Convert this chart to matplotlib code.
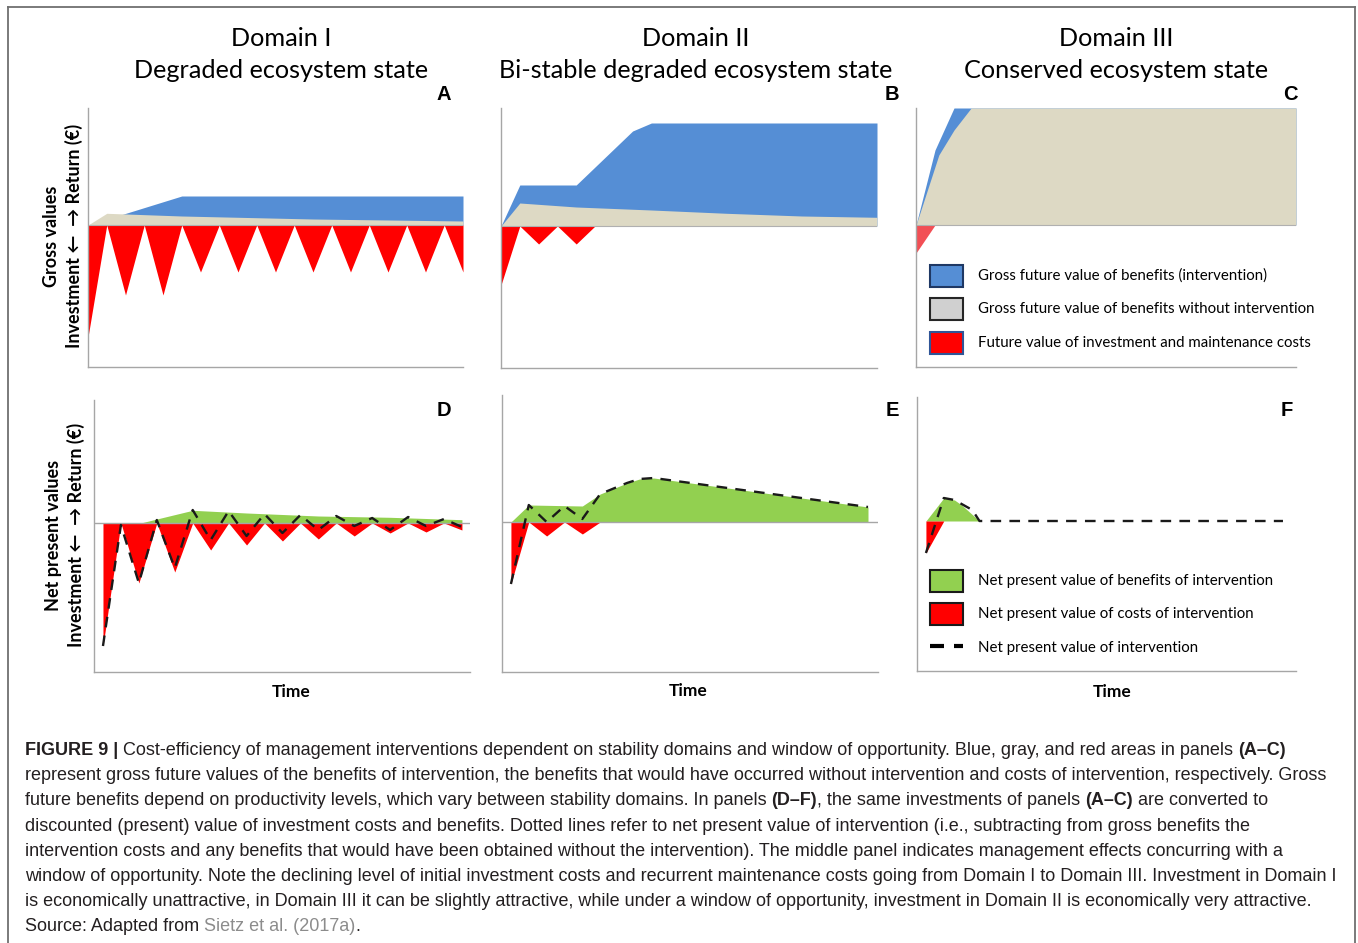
import matplotlib
matplotlib.use("Agg")
import matplotlib.pyplot as plt
from matplotlib.lines import Line2D
from matplotlib.patches import Rectangle

W, H = 1358, 943

# ---- data (arbitrary units, 0 = break-even) ----
t_full = list(range(21))

# A : degraded ecosystem state, gross values
A_red = [-112, 0, -70, 0, -70, 0, -47, 0, -47, 0, -47, 0, -47, 0, -47, 0, -47, 0, -47, 0, -47]
A_gray_t = [0, 1, 5, 12, 20]
A_gray = [0, 11.7, 9, 6, 4]
A_blue_t = [0, 1.9, 5, 20]
A_blue = [0, 11, 29, 29]

# B : bi-stable degraded state, gross values
B_red_t = [0, 1, 2, 3, 4, 5, 20]
B_red = [-59, 0, -18, 0, -18, 0, 0]
B_gray_t = [0, 1, 4, 8, 12, 16, 20]
B_gray = [0, 23, 19, 16, 12.7, 10, 8.7]
B_blue_t = [0, 1, 4, 7, 8, 20]
B_blue = [0, 41, 41, 95, 103, 103]

# C : conserved state, gross values
C_red_t = [0, 1]
C_red = [-28, 0]
C_gray_t = [0, 1.2, 2, 2.9, 20]
C_gray = [0, 70, 95, 117, 117]
C_blue_t = [0, 1, 2, 2.9, 20]
C_blue = [0, 75, 117, 117, 117]

# D : degraded state, net present values
D_red = [-123, 0, -60, 0, -49, 0, -27, 0, -22, 0, -18, 0, -16, 0, -13, 0, -10, 0, -9, 0, -7]
D_green_t = [0, 2.1, 3, 5, 8, 12, 16, 20]
D_green = [0, 0, 4, 12.7, 10, 7, 5.7, 3.3]
D_net = [-123, -2, -60, 3, -45, 13, -17, 12, -13, 9, -10, 8, -7, 7, -3, 5, -7, 6, -3, 4, -4]

# E : bi-stable state, net present values
E_red_t = [0, 1, 2, 3, 4, 5]
E_red = [-62, 0, -14, 0, -12, 0]
E_green_t = [0, 1, 4, 5, 6.5, 7.2, 8, 20]
E_green = [0, 17, 16, 28, 39, 43, 44, 15]
E_net_t = [0, 1, 2, 3, 4, 5, 6.5, 7.2, 8, 20]
E_net = [-62, 17, 0, 16, 3, 28, 39, 43, 44, 15]

# F : conserved state, net present values
F_red_t = [0, 1]
F_red = [-32, 0]
F_green_t = [0, 1, 1.6, 2, 3]
F_green = [0, 23, 21, 16, 0]
F_net_t = [0, 1, 1.6, 2.6, 3, 20]
F_net = [-32, 23, 21, 11, 0, 0]

domains = ["Domain I", "Domain II", "Domain III"]
states = ["Degraded ecosystem state", "Bi-stable degraded ecosystem state",
          "Conserved ecosystem state"]
legend_top = ["Gross future value of benefits (intervention)",
              "Gross future value of benefits without intervention",
              "Future value of investment and maintenance costs"]
legend_bottom = ["Net present value of benefits of intervention",
                 "Net present value of costs of intervention",
                 "Net present value of intervention"]

BLUE = "#558ED5"
BEIGE = "#DDD9C4"
RED = "#FF0000"
GREEN = "#92D050"

SANS = ["Lato", "DejaVu Sans"]


def fx(x):
    return x / W


def fy(y):
    return 1 - y / H


def make_axes(fig, left, top, right, bottom):
    ax = fig.add_axes([fx(left), fy(bottom), (right - left) / W, (bottom - top) / H])
    for s in ["top", "right"]:
        ax.spines[s].set_visible(False)
    for s in ["left", "bottom"]:
        ax.spines[s].set_color("#A6A6A6")
        ax.spines[s].set_linewidth(1.0)
    ax.set_xticks([])
    ax.set_yticks([])
    ax.patch.set_alpha(0)
    return ax


fig = plt.figure(figsize=(W / 100, H / 100), dpi=100)

# ---- panel A ----
ax = make_axes(fig, 88, 108, 463, 367)
ax.set_xlim(0, 20)
ax.set_ylim(-142, 117)
ax.axhline(0, color="#B0B0B0", lw=0.8)
ax.fill_between(A_blue_t, 0, A_blue, color=BLUE, lw=0)
ax.fill_between(A_gray_t, 0, A_gray, color=BEIGE, lw=0)
ax.fill_between(t_full, 0, A_red, color=RED, lw=0)

# ---- panel B ----
ax = make_axes(fig, 501, 108, 877, 368)
ax.set_xlim(0, 20)
ax.set_ylim(-142, 118)
ax.axhline(0, color="#B0B0B0", lw=0.8)
ax.fill_between(B_blue_t, 0, B_blue, color=BLUE, lw=0)
ax.fill_between(B_gray_t, 0, B_gray, color=BEIGE, lw=0)
ax.fill_between(B_red_t, 0, B_red, color=RED, lw=0)

# ---- panel C ----
ax = make_axes(fig, 916, 108, 1296, 367)
ax.set_xlim(0, 20)
ax.set_ylim(-142, 117)
ax.axhline(0, color="#B0B0B0", lw=0.8)
ax.fill_between(C_blue_t, 0, C_blue, color=BLUE, lw=0)
ax.fill_between(C_gray_t, 0, C_gray, color=BEIGE, lw=0)
ax.fill_between(C_red_t, 0, C_red, color="#F24F55", lw=0)

# ---- panel D ----
dash = (0, (4.5, 3.5))
ax = make_axes(fig, 94, 400, 470, 672)
ax.set_xlim(-0.5, 20.45)
ax.set_ylim(-149, 123)
ax.axhline(0, color="#A6A6A6", lw=1.0)
ax.fill_between(D_green_t, 0, D_green, color=GREEN, lw=0)
ax.fill_between(t_full, 0, D_red, color=RED, lw=0)
ax.plot(t_full, D_net, color="#1A1A1A", lw=1.7, ls=dash)

# ---- panel E ----
ax = make_axes(fig, 502, 395, 878, 672)
ax.set_xlim(-0.5, 20.56)
ax.set_ylim(-150, 127)
ax.axhline(0, color="#A6A6A6", lw=1.0)
ax.fill_between(E_green_t, 0, E_green, color=GREEN, lw=0)
ax.fill_between(E_red_t, 0, E_red, color=RED, lw=0)
ax.plot(E_net_t, E_net, color="#1A1A1A", lw=1.7, ls=dash)

# ---- panel F ----
ax = make_axes(fig, 917, 397, 1296, 671)
ax.set_xlim(-0.5, 20.73)
ax.set_ylim(-150, 124)
ax.fill_between(F_green_t, 0, F_green, color=GREEN, lw=0)
ax.fill_between(F_red_t, 0, F_red, color=RED, lw=0)
ax.plot(F_net_t, F_net, color="#1A1A1A", lw=1.7, ls=dash)

# ---- titles, letters, axis labels ----
for d, s, cx in zip(domains, states, [281, 696, 1116]):
    fig.text(fx(cx), fy(38), d, ha="center", va="center", fontsize=18.2, family=SANS)
    fig.text(fx(cx), fy(70), s, ha="center", va="center", fontsize=18.2, family=SANS)

for letter, (x, y) in zip("ABCDEF", [(444, 95), (892, 95), (1290, 95),
                                     (444, 411), (892, 411), (1287, 411)]):
    fig.text(fx(x), fy(y), letter, ha="center", va="center", fontsize=14.5,
             fontweight="bold", family="Liberation Sans")

for cx, cy in [(291, 692), (688, 691), (1112, 692)]:
    fig.text(fx(cx), fy(cy), "Time", ha="center", va="center", fontsize=12.5,
             fontweight="bold", family=SANS)

ylab2 = "Investment \u2190  \u2192 Return (\u20ac)"
fig.text(fx(63), fy(236), "Gross values\n" + ylab2,
         rotation=90, ha="center", va="center", fontsize=13, fontweight="bold",
         family=SANS, linespacing=1.3)
fig.text(fx(65), fy(535), "Net present values\n" + ylab2,
         rotation=90, ha="center", va="center", fontsize=13, fontweight="bold",
         family=SANS, linespacing=1.3)

# ---- legends ----
top_boxes = [(BLUE, "#1F3864"), ("#D0D0D0", "#262626"), (RED, "#2F5597")]
for (fc, ec), label, yc in zip(top_boxes, legend_top, [276, 309, 343]):
    fig.patches.append(Rectangle((fx(930), fy(yc + 11)), 33 / W, 22 / H,
                                 transform=fig.transFigure, facecolor=fc,
                                 edgecolor=ec, lw=1.5))
    fig.text(fx(978), fy(yc), label, ha="left", va="center", fontsize=10.85,
             family=SANS)

bottom_boxes = [(GREEN, "#1A1A1A"), (RED, "#1A1A1A")]
for (fc, ec), yc in zip(bottom_boxes, [581, 614]):
    fig.patches.append(Rectangle((fx(930), fy(yc + 11)), 33 / W, 22 / H,
                                 transform=fig.transFigure, facecolor=fc,
                                 edgecolor=ec, lw=1.5))
for x0, x1 in [(930, 944), (954, 963)]:
    fig.lines.append(Line2D([fx(x0), fx(x1)], [fy(646), fy(646)],
                            transform=fig.transFigure, color="black", lw=3,
                            solid_capstyle="butt"))
for label, yc in zip(legend_bottom, [581, 614, 648]):
    fig.text(fx(978), fy(yc), label, ha="left", va="center", fontsize=10.85,
             family=SANS)

# ---- frame around the figure ----
for xs, ys in [([8, 8], [7, 943]), ([8, 1355], [7, 7]), ([1355, 1355], [7, 943])]:
    fig.lines.append(Line2D([fx(v) for v in xs], [fy(v) for v in ys],
                            transform=fig.transFigure, color="#707070", lw=1.3))

# ---- caption (mixed bold / gray runs) ----
INK = "#231F20"
caption = [
    [("FIGURE 9 |", "bold", INK),
     (" Cost-efficiency of management interventions dependent on stability domains and window of opportunity. Blue, gray, and red areas in panels ", "normal", INK),
     ("(A\u2013C)", "bold", INK)],
    [("represent gross future values of the benefits of intervention, the benefits that would have occurred without intervention and costs of intervention, respectively. Gross", "normal", INK)],
    [("future benefits depend on productivity levels, which vary between stability domains. In panels ", "normal", INK),
     ("(D\u2013F)", "bold", INK),
     (", the same investments of panels ", "normal", INK),
     ("(A\u2013C)", "bold", INK),
     (" are converted to", "normal", INK)],
    [("discounted (present) value of investment costs and benefits. Dotted lines refer to net present value of intervention (i.e., subtracting from gross benefits the", "normal", INK)],
    [("intervention costs and any benefits that would have been obtained without the intervention). The middle panel indicates management effects concurring with a", "normal", INK)],
    [("window of opportunity. Note the declining level of initial investment costs and recurrent maintenance costs going from Domain I to Domain III. Investment in Domain I", "normal", INK)],
    [("is economically unattractive, in Domain III it can be slightly attractive, while under a window of opportunity, investment in Domain II is economically very attractive.", "normal", INK)],
    [("Source: Adapted from ", "normal", INK),
     ("Sietz et al. (2017a)", "normal", "#8C8C8C"),
     (".", "normal", INK)],
]

CAP_FS = 13.0
renderer = fig.canvas.get_renderer()


def run_width(s, weight):
    # advance width incl. spaces: measure "x"+s+"x" minus "xx"
    a = fig.text(0, 0, "x" + s + "x", fontsize=CAP_FS, fontweight=weight,
                 family="Liberation Sans")
    b = fig.text(0, 0, "xx", fontsize=CAP_FS, fontweight=weight,
                 family="Liberation Sans")
    w = a.get_window_extent(renderer).width - b.get_window_extent(renderer).width
    a.remove()
    b.remove()
    return w


line_y = [755, 780, 805, 831, 856, 881, 906, 931]
for runs, yb in zip(caption, line_y):
    x = 25
    for s, weight, col in runs:
        fig.text(fx(x), fy(yb), s, ha="left", va="baseline", fontsize=CAP_FS,
                 fontweight=weight, color=col, family="Liberation Sans")
        x += run_width(s, weight)

fig.savefig("out.png", dpi=100)
